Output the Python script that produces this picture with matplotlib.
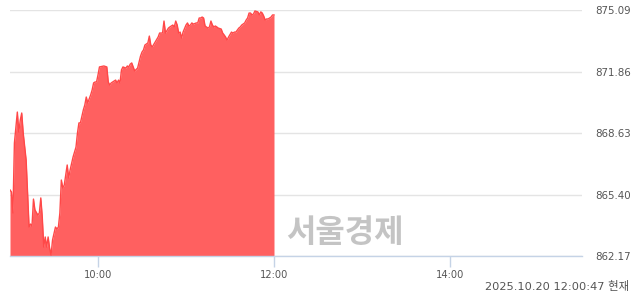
import numpy as np
import matplotlib
matplotlib.use('Agg')
import matplotlib.pyplot as plt

plt.rcParams['font.family'] = ['DejaVu Sans', 'Noto Sans CJK KR']

# minutes after 09:00 and index value
minutes = [0, 1, 2, 3, 5, 6, 7, 8, 9, 11, 12, 13, 14, 15, 16, 17, 19, 20, 21, 22,
           23, 24, 25, 26, 27, 28, 29, 31, 32, 33, 34, 35, 36, 37, 39, 40, 41, 43, 45, 46,
           47, 48, 50, 51, 52, 53, 55, 56, 57, 58, 59, 60, 61, 64, 66, 67, 68, 69, 70, 72,
           73, 74, 75, 76, 77, 79, 80, 81, 82, 83, 84, 85, 87, 88, 89, 90, 91, 92, 94, 95,
           96, 97, 99, 101, 102, 104, 105, 106, 108, 109, 111, 112, 113, 114, 115, 116, 117, 118, 120, 121,
           122, 123, 124, 125, 127, 128, 129, 130, 131, 132, 133, 135, 136, 137, 138, 139, 140, 141, 142, 144,
           145, 146, 147, 148, 149, 151, 152, 153, 154, 155, 156, 157, 158, 160, 161, 162, 163, 164, 165, 166,
           167, 169, 170, 171, 172, 173, 174, 175, 176, 178, 179, 180]
values = [865.64, 865.53, 864.43, 868.10, 869.73, 868.68, 869.31, 869.68, 868.63, 867.21,
          865.48, 863.69, 863.85, 863.74, 865.16, 864.59, 864.32, 864.43, 865.22, 864.22,
          862.64, 863.17, 862.64, 863.17, 862.59, 862.22, 863.01, 863.69, 863.59, 863.69,
          864.43, 866.16, 865.74, 865.90, 866.95, 866.27, 866.69, 867.37, 867.89, 868.63,
          869.16, 869.16, 869.84, 870.10, 870.52, 870.21, 870.63, 870.89, 871.26, 871.31,
          871.31, 871.68, 872.10, 872.15, 872.10, 871.31, 871.15, 871.26, 871.31, 871.41,
          871.26, 871.41, 871.26, 871.94, 872.10, 872.04, 872.15, 872.10, 872.25, 872.31,
          872.10, 871.89, 872.04, 872.36, 872.67, 872.88, 872.99, 873.25, 873.36, 873.72,
          873.25, 873.15, 873.41, 873.67, 873.88, 873.88, 874.51, 873.88, 874.14, 874.20,
          874.30, 874.20, 874.51, 874.30, 873.88, 873.93, 873.62, 873.93, 874.30, 874.41,
          874.25, 874.30, 874.41, 874.35, 874.41, 874.41, 874.67, 874.67, 874.72, 874.67,
          874.25, 874.14, 874.20, 874.51, 874.30, 874.20, 874.25, 874.20, 874.14, 874.09,
          873.88, 873.78, 873.67, 873.51, 873.67, 873.93, 873.88, 873.93, 873.93, 874.04,
          874.14, 874.20, 874.30, 874.41, 874.56, 874.67, 874.93, 874.93, 874.83, 874.88,
          875.04, 874.99, 874.83, 874.99, 874.93, 874.77, 874.56, 874.62, 874.62, 874.72,
          874.83, 874.83]

y_ticks = [862.17, 865.40, 868.63, 871.86, 875.09]
x_ticks = [60, 180, 300]
x_labels = ['10:00', '12:00', '14:00']
stamp = '2025.10.20 12:00:47 현재'
watermark = '서울경제'

fig = plt.figure(figsize=(6.4, 2.94), dpi=100)
ax = fig.add_axes([10 / 640, 1 - 256 / 294, 572 / 640, 246 / 294])

t = np.array(minutes)
v = np.array(values)
ax.fill_between(t, v, y_ticks[0], color='#ff6060', linewidth=0, zorder=2)
ax.plot(t, v, color='#ff4848', linewidth=1.0, zorder=3)

ax.set_xlim(0, 390)
ax.set_ylim(y_ticks[0], y_ticks[-1])
ax.set_yticks(y_ticks)
ax.set_yticklabels(['%.2f' % y for y in y_ticks])
ax.yaxis.tick_right()
ax.tick_params(axis='y', length=0, pad=9.5, labelsize=7.4, labelcolor='#555555')
ax.set_xticks(x_ticks)
ax.set_xticklabels(x_labels)
ax.tick_params(axis='x', length=8, width=1, color='#c5d3e6', pad=2,
               labelsize=7.1, labelcolor='#555555')
ax.grid(axis='y', color='#e4e4e4', linewidth=1, zorder=0)
ax.set_axisbelow(True)
for s in ['top', 'left', 'right']:
    ax.spines[s].set_visible(False)
ax.spines['bottom'].set_color('#c5d3e6')
ax.spines['bottom'].set_linewidth(1)

fig.text(345 / 640, 1 - 233 / 294, watermark, family=['Noto Sans CJK KR'],
         ha='center', va='center', fontsize=23, fontweight='bold',
         color='#c4c4c4', zorder=5)
fig.text(629 / 640, 1 - 286 / 294, stamp, ha='right', va='center',
         fontsize=8.2, color='#555555')

fig.savefig('out.png', dpi=100)
